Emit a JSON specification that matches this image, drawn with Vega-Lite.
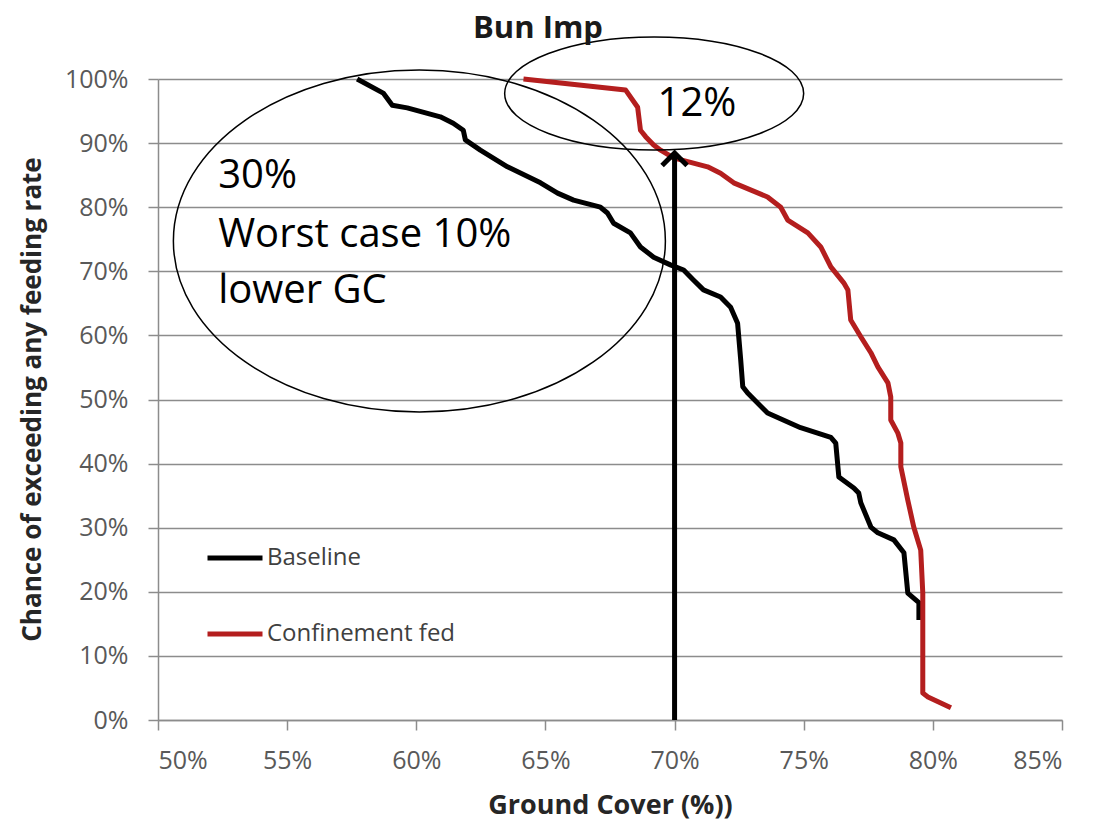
{
  "$schema": "https://vega.github.io/schema/vega-lite/v6.json",
  "width": 904,
  "height": 641,
  "autosize": {"type": "none"},
  "padding": {"left": 158, "top": 79, "right": 32, "bottom": 105},
  "background": "white",
  "title": {"text": "Bun Imp", "font": "Open Sans", "fontSize": 31, "fontWeight": "bold", "color": "#1a1a1a", "anchor": "middle", "frame": "group", "dx": -72, "offset": -35, "baseline": "alphabetic"},
  "config": {"view": {"stroke": null}},
  "datasets": {
    "curves": [
      {"series": "Baseline", "gc": 0.5771, "p": 1.0},
      {"series": "Baseline", "gc": 0.5872, "p": 0.978},
      {"series": "Baseline", "gc": 0.5907, "p": 0.959},
      {"series": "Baseline", "gc": 0.5965, "p": 0.955},
      {"series": "Baseline", "gc": 0.6093, "p": 0.941},
      {"series": "Baseline", "gc": 0.6143, "p": 0.931},
      {"series": "Baseline", "gc": 0.6182, "p": 0.920},
      {"series": "Baseline", "gc": 0.6190, "p": 0.905},
      {"series": "Baseline", "gc": 0.6248, "p": 0.889},
      {"series": "Baseline", "gc": 0.6353, "p": 0.863},
      {"series": "Baseline", "gc": 0.6481, "p": 0.838},
      {"series": "Baseline", "gc": 0.6547, "p": 0.822},
      {"series": "Baseline", "gc": 0.6609, "p": 0.811},
      {"series": "Baseline", "gc": 0.6713, "p": 0.800},
      {"series": "Baseline", "gc": 0.6740, "p": 0.791},
      {"series": "Baseline", "gc": 0.6764, "p": 0.775},
      {"series": "Baseline", "gc": 0.6829, "p": 0.760},
      {"series": "Baseline", "gc": 0.6868, "p": 0.738},
      {"series": "Baseline", "gc": 0.6919, "p": 0.722},
      {"series": "Baseline", "gc": 0.6984, "p": 0.710},
      {"series": "Baseline", "gc": 0.7035, "p": 0.702},
      {"series": "Baseline", "gc": 0.7074, "p": 0.686},
      {"series": "Baseline", "gc": 0.7112, "p": 0.671},
      {"series": "Baseline", "gc": 0.7178, "p": 0.660},
      {"series": "Baseline", "gc": 0.7217, "p": 0.644},
      {"series": "Baseline", "gc": 0.7244, "p": 0.619},
      {"series": "Baseline", "gc": 0.7256, "p": 0.562},
      {"series": "Baseline", "gc": 0.7264, "p": 0.520},
      {"series": "Baseline", "gc": 0.7283, "p": 0.510},
      {"series": "Baseline", "gc": 0.7360, "p": 0.479},
      {"series": "Baseline", "gc": 0.7488, "p": 0.456},
      {"series": "Baseline", "gc": 0.7605, "p": 0.441},
      {"series": "Baseline", "gc": 0.7624, "p": 0.432},
      {"series": "Baseline", "gc": 0.7636, "p": 0.379},
      {"series": "Baseline", "gc": 0.7694, "p": 0.362},
      {"series": "Baseline", "gc": 0.7713, "p": 0.354},
      {"series": "Baseline", "gc": 0.7721, "p": 0.339},
      {"series": "Baseline", "gc": 0.7760, "p": 0.301},
      {"series": "Baseline", "gc": 0.7787, "p": 0.292},
      {"series": "Baseline", "gc": 0.7849, "p": 0.281},
      {"series": "Baseline", "gc": 0.7888, "p": 0.261},
      {"series": "Baseline", "gc": 0.7903, "p": 0.198},
      {"series": "Baseline", "gc": 0.7946, "p": 0.183},
      {"series": "Baseline", "gc": 0.7946, "p": 0.156},
      {"series": "Confinement fed", "gc": 0.6415, "p": 1.0},
      {"series": "Confinement fed", "gc": 0.6810, "p": 0.983},
      {"series": "Confinement fed", "gc": 0.6857, "p": 0.956},
      {"series": "Confinement fed", "gc": 0.6868, "p": 0.920},
      {"series": "Confinement fed", "gc": 0.6888, "p": 0.910},
      {"series": "Confinement fed", "gc": 0.6919, "p": 0.897},
      {"series": "Confinement fed", "gc": 0.6946, "p": 0.889},
      {"series": "Confinement fed", "gc": 0.6996, "p": 0.877},
      {"series": "Confinement fed", "gc": 0.7128, "p": 0.863},
      {"series": "Confinement fed", "gc": 0.7178, "p": 0.853},
      {"series": "Confinement fed", "gc": 0.7229, "p": 0.838},
      {"series": "Confinement fed", "gc": 0.7360, "p": 0.816},
      {"series": "Confinement fed", "gc": 0.7411, "p": 0.800},
      {"series": "Confinement fed", "gc": 0.7438, "p": 0.780},
      {"series": "Confinement fed", "gc": 0.7516, "p": 0.760},
      {"series": "Confinement fed", "gc": 0.7566, "p": 0.738},
      {"series": "Confinement fed", "gc": 0.7605, "p": 0.707},
      {"series": "Confinement fed", "gc": 0.7655, "p": 0.682},
      {"series": "Confinement fed", "gc": 0.7671, "p": 0.671},
      {"series": "Confinement fed", "gc": 0.7682, "p": 0.624},
      {"series": "Confinement fed", "gc": 0.7721, "p": 0.598},
      {"series": "Confinement fed", "gc": 0.7760, "p": 0.573},
      {"series": "Confinement fed", "gc": 0.7787, "p": 0.551},
      {"series": "Confinement fed", "gc": 0.7826, "p": 0.526},
      {"series": "Confinement fed", "gc": 0.7837, "p": 0.504},
      {"series": "Confinement fed", "gc": 0.7837, "p": 0.468},
      {"series": "Confinement fed", "gc": 0.7864, "p": 0.448},
      {"series": "Confinement fed", "gc": 0.7876, "p": 0.432},
      {"series": "Confinement fed", "gc": 0.7876, "p": 0.395},
      {"series": "Confinement fed", "gc": 0.7903, "p": 0.343},
      {"series": "Confinement fed", "gc": 0.7926, "p": 0.301},
      {"series": "Confinement fed", "gc": 0.7953, "p": 0.265},
      {"series": "Confinement fed", "gc": 0.7961, "p": 0.198},
      {"series": "Confinement fed", "gc": 0.7961, "p": 0.042},
      {"series": "Confinement fed", "gc": 0.7981, "p": 0.036},
      {"series": "Confinement fed", "gc": 0.8070, "p": 0.019}
    ],
    "ellipses": [
      {"name": "big", "gc": 0.6012, "p": 0.7473},
      {"name": "small", "gc": 0.6921, "p": 0.9774}
    ],
    "notes": [
      {"text": "30%", "gc": 0.5233, "p": 0.830},
      {"text": "Worst case 10%", "gc": 0.5233, "p": 0.738},
      {"text": "lower GC", "gc": 0.5233, "p": 0.6505},
      {"text": "12%", "gc": 0.6934, "p": 0.9423}
    ],
    "arrow": [
      {"gc": 0.70, "p0": 0.0, "p1": 0.882, "tip": 0.8845}
    ]
  },
  "layer": [
    {
      "data": {"name": "curves"},
      "mark": {"type": "line", "strokeWidth": 5, "strokeJoin": "round"},
      "encoding": {
        "x": {"field": "gc", "type": "quantitative",
          "scale": {"domain": [0.5, 0.85], "nice": false, "zero": false},
          "axis": {"values": [0.5, 0.55, 0.6, 0.65, 0.7, 0.75, 0.8, 0.85], "format": ".0%", "grid": false,
            "domainColor": "#8c8c8c", "domainWidth": 1.5, "tickColor": "#8c8c8c", "tickWidth": 1.5, "tickSize": 10,
            "labelFont": "Open Sans", "labelFontSize": 25, "labelColor": "#595959", "labelPadding": 18,
            "title": "Ground Cover (%))", "titleFont": "Open Sans", "titleFontSize": 27, "titleFontWeight": "bold", "titleColor": "#262626",
            "titleX": 452, "titleY": 93, "titleBaseline": "alphabetic", "titleAlign": "center"}},
        "y": {"field": "p", "type": "quantitative",
          "scale": {"domain": [0, 1], "nice": false},
          "axis": {"values": [0, 0.1, 0.2, 0.3, 0.4, 0.5, 0.6, 0.7, 0.8, 0.9, 1.0], "format": ".0%", "grid": true,
            "gridColor": "#8c8c8c", "gridWidth": 1.5,
            "domainColor": "#8c8c8c", "domainWidth": 1.5, "tickColor": "#8c8c8c", "tickWidth": 1.5, "tickSize": 10,
            "labelFont": "Open Sans", "labelFontSize": 25, "labelColor": "#595959", "labelPadding": 20,
            "title": "Chance of exceeding any feeding rate", "titleFont": "Open Sans", "titleFontSize": 26, "titleFontWeight": "bold", "titleColor": "#262626",
            "titleAngle": -90, "titleX": -118, "titleY": 320, "titleBaseline": "alphabetic", "titleAlign": "center"}},
        "color": {"field": "series", "type": "nominal",
          "scale": {"domain": ["Baseline", "Confinement fed"], "range": ["#000000", "#B41E1E"]},
          "legend": {"orient": "none", "legendX": 47, "legendY": 449, "title": null, "padding": 0,
            "symbolType": "stroke", "symbolSize": 3025, "symbolStrokeWidth": 5,
            "labelFont": "Open Sans", "labelFontSize": 24, "labelColor": "#404040", "labelOffset": 2, "labelLimit": 400, "rowPadding": 34}},
        "order": {"field": "p", "sort": "descending"}
      }
    },
    {
      "data": {"name": "ellipses"},
      "transform": [{"filter": "datum.name === 'big'"}],
      "mark": {"type": "point", "filled": false, "stroke": "#000000", "strokeWidth": 1.5, "opacity": 1, "size": 242064,
        "shape": "M -1 0 C -1 -0.384 -0.5523 -0.695 0 -0.695 C 0.5523 -0.695 1 -0.384 1 0 C 1 0.384 0.5523 0.695 0 0.695 C -0.5523 0.695 -1 0.384 -1 0 Z"},
      "encoding": {
        "x": {"field": "gc", "type": "quantitative"},
        "y": {"field": "p", "type": "quantitative"}
      }
    },
    {
      "data": {"name": "ellipses"},
      "transform": [{"filter": "datum.name === 'small'"}],
      "mark": {"type": "point", "filled": false, "stroke": "#000000", "strokeWidth": 1.5, "opacity": 1, "size": 89401,
        "shape": "M -1 0 C -1 -0.2088 -0.5523 -0.378 0 -0.378 C 0.5523 -0.378 1 -0.2088 1 0 C 1 0.2088 0.5523 0.378 0 0.378 C -0.5523 0.378 -1 0.2088 -1 0 Z"},
      "encoding": {
        "x": {"field": "gc", "type": "quantitative"},
        "y": {"field": "p", "type": "quantitative"}
      }
    },
    {
      "data": {"name": "arrow"},
      "mark": {"type": "rule", "stroke": "#000000", "strokeWidth": 5},
      "encoding": {
        "x": {"field": "gc", "type": "quantitative"},
        "y": {"field": "p0", "type": "quantitative"},
        "y2": {"field": "p1"}
      }
    },
    {
      "data": {"name": "arrow"},
      "mark": {"type": "point", "filled": false, "stroke": "#000000", "strokeWidth": 5, "opacity": 1, "size": 625,
        "strokeJoin": "miter", "shape": "M -1 1 L 0 0 L 1 1"},
      "encoding": {
        "x": {"field": "gc", "type": "quantitative"},
        "y": {"field": "tip", "type": "quantitative"}
      }
    },
    {
      "data": {"name": "notes"},
      "mark": {"type": "text", "align": "left", "baseline": "alphabetic", "font": "Open Sans", "fontSize": 40, "color": "#000000"},
      "encoding": {
        "x": {"field": "gc", "type": "quantitative"},
        "y": {"field": "p", "type": "quantitative"},
        "text": {"field": "text", "type": "nominal"}
      }
    }
  ]
}
